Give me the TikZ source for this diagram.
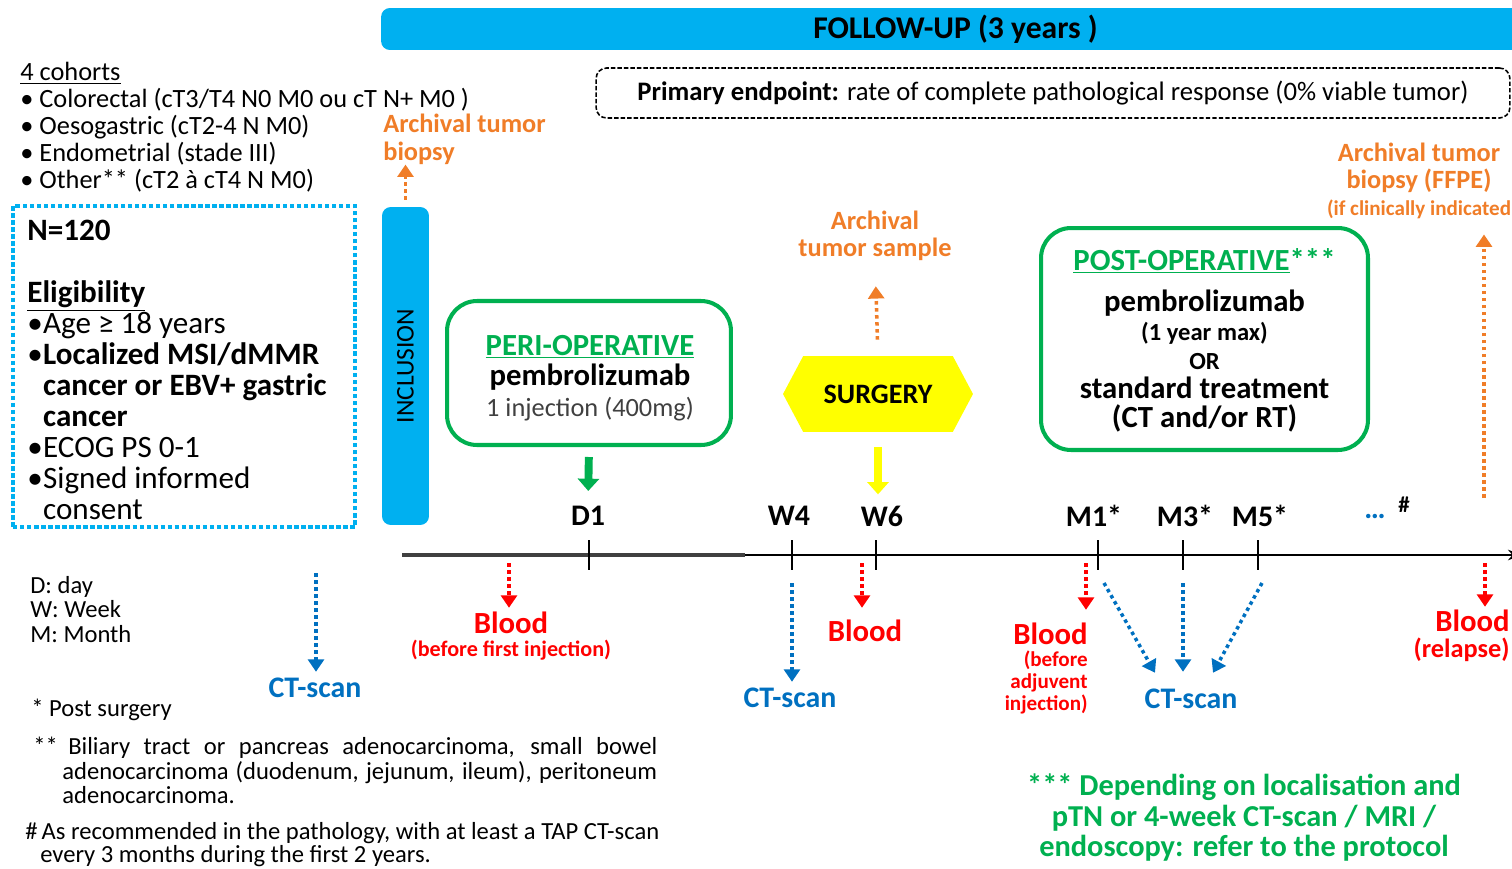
\documentclass[tikz,border=0pt]{standalone}
\usepackage{fontspec}
\setmainfont{Carlito}
\usepackage{xcolor}
\usetikzlibrary{arrows.meta, positioning, calc, shapes.symbols}

\definecolor{fupcyan}{RGB}{0,176,240}
\definecolor{armgreen}{RGB}{0,176,80}
\definecolor{archorange}{RGB}{240,125,40}
\definecolor{bloodred}{RGB}{255,0,0}
\definecolor{ctblue}{RGB}{0,112,192}
\definecolor{surgyellow}{RGB}{255,255,0}

\newcommand{\fs}[2]{\fontsize{#1}{#2}\selectfont}
\newcommand{\elbul}{\makebox[9pt][l]{\textbullet}}

\begin{document}
\begin{tikzpicture}[x=0.02cm, y=-0.02cm,
        bar/.style={fill=fupcyan, rounded corners=5pt, inner sep=0pt},
        arm/.style={draw=armgreen, line width=2.3pt, rounded corners=0.6cm, align=center, inner sep=0pt},
        txt/.style={inner sep=0pt, align=left},
        tlabel/.style={inner sep=0pt, font=\fs{17}{20}\bfseries},
        dotarrow/.style={line width=2pt, dash pattern=on 2pt off 2pt, -{Triangle[width=9pt,length=7pt]}},
        bloodarrow/.style={dotarrow, bloodred},
        ctarrow/.style={dotarrow, ctblue},
        archarrow/.style={dotarrow, archorange},
        fatarrow/.style={line width=4.5pt, -{Triangle[width=12pt,length=7pt]}},
        bloodtxt/.style={bloodred, inner sep=0pt, font=\fs{17.5}{20}\bfseries},
        cttxt/.style={ctblue, inner sep=0pt, font=\fs{17}{20}\bfseries},
        archtxt/.style={archorange, inner sep=0pt, align=center, font=\fs{15}{15.5}\bfseries}
    ]
        \useasboundingbox (0,0) rectangle (1512,869);

        % Follow-up bar and endpoint
        \node[bar, minimum width=22.98cm, minimum height=0.84cm, font=\fs{18}{20}\bfseries] (fup) at (955.5,29) {FOLLOW-UP (3 years )};
        \node[draw, dash pattern=on 2.5pt off 1.2pt, line width=0.9pt, rounded corners=6pt,
              minimum width=18.28cm, minimum height=1cm, font=\fs{15.2}{17}] (prim) at (1053,93)
              {\textbf{Primary endpoint:} rate of complete pathological response (0\% viable tumor)};

        % Cohorts
        \node[txt, anchor=north west, font=\fs{15}{15.4}] (cohorts) at (20,62) {
            \underline{4 cohorts}\\
            \textbullet\ Colorectal (cT3/T4 N0 M0 ou cT N+ M0 )\\
            \textbullet\ Oesogastric (cT2-4 N M0)\\
            \textbullet\ Endometrial (stade III)\\
            \textbullet\ Other** (cT2 à cT4 N M0)
        };

        % Eligibility
        \node[draw=fupcyan, line width=2pt, dash pattern=on 2.5pt off 1.5pt, minimum width=6.84cm, minimum height=6.42cm] (eligbox) at (184,366.5) {};
        \node[txt, anchor=north west, font=\fs{17.7}{17.6}] (elig) at (27,220) {
            \textbf{N=120}\\[17.6pt]
            \textbf{\underline{Eligibility}}\\
            \elbul Age ≥ 18 years\\
            \elbul\textbf{Localized MSI/dMMR}\\
            \hspace*{9pt}\textbf{cancer or EBV+ gastric}\\
            \hspace*{9pt}\textbf{cancer}\\
            \elbul ECOG PS 0-1\\
            \elbul Signed informed\\
            \hspace*{9pt}consent
        };

        % Inclusion
        \node[bar, rotate=90, minimum width=6.36cm, minimum height=0.94cm, font=\fs{14.5}{16}] (incl) at (405.5,366) {INCLUSION};
        \node[archtxt, align=left, anchor=north west] (archbiop) at (383,114) {Archival tumor\\biopsy};
        \draw[archarrow, shorten <=0.14cm] (incl.east) -- (incl.east |- archbiop.south);

        % Peri-operative
        \node[arm, minimum width=5.68cm, minimum height=2.88cm] (peri) at (589,373) {};
        \node[inner sep=0pt, align=center, font=\fs{17.5}{17.5}] (peritxt) at (590,378) {
            \textbf{\textcolor{armgreen}{\underline{PERI-OPERATIVE}}}\\
            \textbf{pembrolizumab}\\
            {\fs{15}{17}\textcolor{black!75}{1 injection (400mg)}}
        };

        % Surgery
        \node[signal, signal to=west and east, signal pointer angle=124, fill=surgyellow, minimum width=3.8cm,
              minimum height=1.52cm, inner sep=0pt, font=\fs{16}{18}\bfseries] (surg) at (878,394) {SURGERY};
        \node[archtxt] (archsamp) at (875,236) {Archival\\tumor sample};
        \draw[archarrow, shorten <=0.32cm, shorten >=0.5cm] (surg.north) -- (archsamp.south);

        % Post-operative
        \node[arm, minimum width=6.54cm, minimum height=4.44cm] (post) at (1204.5,339) {};
        \node[inner sep=0pt, align=center, font=\fs{17.5}{16.5}\bfseries] (posttxt) at (1204.5,340) {
            \textcolor{armgreen}{\underline{POST-OPERATIVE}***}\\[7pt]
            pembrolizumab\\
            {\fs{14}{16}(1 year max)}\\
            {\fs{14}{16}OR}\\
            standard treatment\\
            (CT and/or RT)
        };
        \node[archtxt] (archbio) at (1419,181) {Archival tumor\\biopsy (FFPE)\\{\fs{12}{13}(if clinically indicated}};
        \coordinate (relapse) at (1484,498);
        \draw[archarrow, shorten >=0.3cm] (relapse) -- (relapse |- archbio.south);

        % Timeline
        \coordinate (tlstart) at (402,555);
        \coordinate (tlsplit) at (745,555);
        \coordinate (tlend) at (1522,555);
        \draw[line width=1.1pt, -{Stealth[length=8pt]}] (tlstart) -- (tlend);
        \draw[line width=2pt, black!75] (tlstart) -- (tlsplit);
        \foreach \nm/\xx in {D1/589, W4/792, W6/876, M1/1098, M3/1183, M5/1258} {
            \coordinate (t\nm) at (\xx,555);
            \draw[line width=1.3pt] (\xx,540) -- (\xx,570);
        }
        \node[tlabel] (lD1) at (588,516) {D1};
        \node[tlabel] (lW4) at (789,516) {W4};
        \node[tlabel] (lW6) at (882,516) {W6};
        \node[tlabel] (lM1) at (1094,516) {M1*};
        \node[tlabel] (lM3) at (1185,516) {M3*};
        \node[tlabel] (lM5) at (1260,516) {M5*};
        \node[tlabel, ctblue] (ldots) at (1375,516) {\ldots};
        \node[inner sep=0pt, font=\fs{13}{14}\bfseries] (lhash) at (1404,505) {\#};

        % Treatment arrows
        \draw[fatarrow, armgreen, shorten <=0.2cm, shorten >=0.3cm] (peri.south) -- (lD1.north);
        \coordinate (w6top) at (surg.south |- lW6.north);
        \draw[fatarrow, surgyellow, line width=5pt, shorten <=0.3cm, shorten >=0.22cm] (surg.south) -- (w6top);

        % Blood samples
        \coordinate (b1) at (509,563);
        \coordinate (b2) at (862,563);
        \coordinate (b3) at (1086,563);
        \coordinate (b4) at (1485,563);
        \node[bloodtxt] (blood1) at (511,623) {Blood};
        \node[bloodred, inner sep=0pt, font=\fs{12.6}{14}\bfseries, below=3pt of blood1] (blood1n) {(before first injection)};
        \node[bloodtxt] (blood2) at (865,631) {Blood};
        \node[bloodtxt, anchor=east] (blood3) at (1088,634) {Blood};
        \node[bloodred, inner sep=0pt, align=right, font=\fs{12}{12.6}\bfseries, below left=3pt and 0pt of blood3.south east] (blood3n) {(before\\adjuvent\\injection)};
        \node[bloodtxt, anchor=east] (blood4) at (1510,621) {Blood};
        \node[bloodred, inner sep=0pt, font=\fs{15}{16}\bfseries, below left=3pt and 0pt of blood4.south east] (blood4n) {(relapse)};
        \draw[bloodarrow, shorten >=0.08cm] (b1) -- (b1 |- blood1.north);
        \draw[bloodarrow, shorten >=0.24cm] (b2) -- (b2 |- blood2.north);
        \draw[bloodarrow, shorten >=0.26cm] (b3) -- (b3 |- blood3.north);
        \draw[bloodarrow, shorten >=0.06cm] (b4) -- (b4 |- blood4.north);

        % CT-scans
        \coordinate (c0) at (316,573);
        \coordinate (cW4) at (792,583);
        \coordinate (cM1) at (1104,583);
        \coordinate (cM3) at (1183,583);
        \coordinate (cM5) at (1262,583);
        \node[cttxt] (ct0) at (315,688) {CT-scan};
        \node[cttxt] (ct1) at (790,698) {CT-scan};
        \node[cttxt] (ct2) at (1191,699) {CT-scan};
        \draw[ctarrow, shorten >=0.12cm] (c0) -- (c0 |- ct0.north);
        \draw[ctarrow, shorten >=0.12cm] (cW4) -- (cW4 |- ct1.north);
        \draw[ctarrow] (cM1) -- ([shift={(-36,-16)}]ct2.north);
        \draw[ctarrow] (cM3) -- ([shift={(-8,-17)}]ct2.north);
        \draw[ctarrow] (cM5) -- ([shift={(22,-16)}]ct2.north);

        % Legend and footnotes
        \node[txt, anchor=north west, font=\fs{14}{13.9}] (legend) at (30,576) {D: day\\W: Week\\M: Month};
        \node[txt, anchor=west, font=\fs{14}{14}] (postsurg) at (31,710) {* Post surgery};
        \node[txt, anchor=north west, font=\fs{14}{13.8}] (other) at (33,737) {\makebox[0.58cm][l]{**}\parbox[t]{11.9cm}{\hspace*{0.12cm}Biliary tract or pancreas adenocarcinoma, small bowel\linebreak
            adenocarcinoma (duodenum, jejunum, ileum), peritoneum\linebreak
            adenocarcinoma.}};
        \node[txt, anchor=north west, font=\fs{14}{13.4}] (hashnote) at (25,822) {\#\,As recommended in the pathology, with at least a TAP CT-scan\\\hspace*{8.5pt}every 3 months during the first 2 years.};
        \node[armgreen, inner sep=0pt, align=center, font=\fs{17.3}{17.6}\bfseries, anchor=north] (depnote) at (1244,773) {*** Depending on localisation and\\pTN or 4-week CT-scan / MRI /\\endoscopy: refer to the protocol};
    \end{tikzpicture}
\end{document}
